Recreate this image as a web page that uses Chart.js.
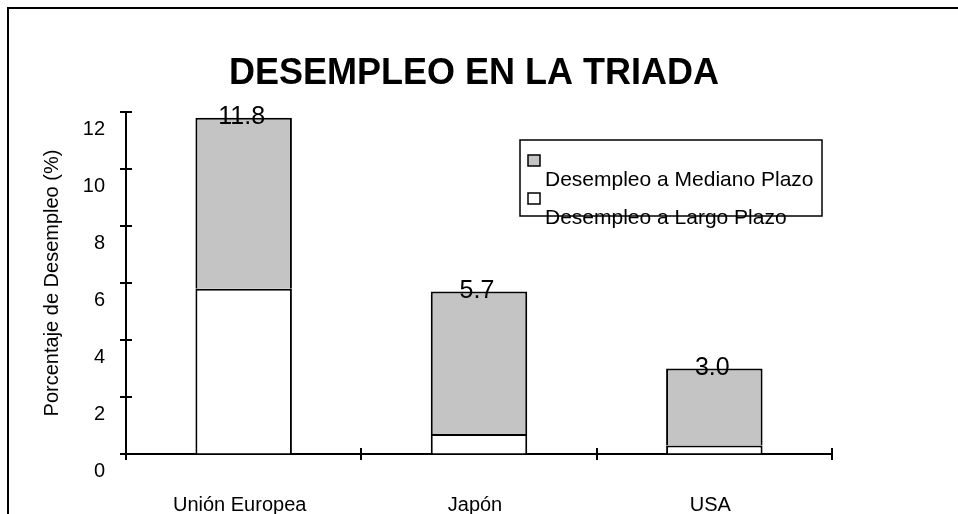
<!DOCTYPE html>
<html><head><meta charset="utf-8">
<script src="https://cdn.jsdelivr.net/npm/chart.js@4.4.0/dist/chart.umd.min.js"></script>
<style>html,body{margin:0;padding:0;background:#fff;} #wrap{width:958px;height:514px;}</style>
</head><body><div id="wrap"><canvas id="c" width="958" height="514"></canvas></div>
<script>
const categories = ['Unión Europea', 'Japón', 'USA'];
const largoPlazo = [5.8, 0.7, 0.3];
const medianoPlazo = [6.0, 5.0, 2.7];
const seriesLabels = ['Desempleo a Largo Plazo', 'Desempleo a Mediano Plazo'];
const chartTitle = 'DESEMPLEO EN LA TRIADA';
const yTitle = 'Porcentaje de Desempleo (%)';
const yMin = 0, yMax = 12, yStep = 2;

const FONT = '"Liberation Sans", Arial, Helvetica, sans-serif';
const GRAY = '#c4c4c4';

const framePlugin = {
  id: 'frame',
  beforeDraw(chart) {
    const ctx = chart.ctx;
    ctx.save();
    ctx.fillStyle = '#fff';
    ctx.fillRect(0, 0, chart.width, chart.height);
    ctx.strokeStyle = '#000';
    ctx.lineWidth = 2;
    ctx.strokeRect(8, 8, chart.width + 20, chart.height + 20);
    ctx.restore();
  }
};

const crossTicksPlugin = {
  id: 'crossTicks',
  afterDraw(chart) {
    const ctx = chart.ctx;
    const ys = chart.scales.y, xs = chart.scales.x;
    ctx.save();
    ctx.strokeStyle = '#000';
    ctx.lineWidth = 2;
    ctx.beginPath();
    ys.ticks.forEach(t => {
      const py = Math.round(ys.getPixelForValue(t.value));
      ctx.moveTo(ys.right - 6, py);
      ctx.lineTo(ys.right + 6, py);
    });
    for (let i = 0; i <= categories.length; i++) {
      const px = Math.round(xs.getPixelForValue(i - 0.5));
      ctx.moveTo(px, xs.top - 6);
      ctx.lineTo(px, xs.top + 6);
    }
    ctx.stroke();
    ctx.restore();
  }
};

const valueLabelPlugin = {
  id: 'valueLabels',
  afterDatasetsDraw(chart) {
    const ctx = chart.ctx;
    const last = chart.data.datasets.length - 1;
    const meta = chart.getDatasetMeta(last);
    ctx.save();
    ctx.fillStyle = '#000';
    ctx.font = '25px ' + FONT;
    ctx.textAlign = 'center';
    ctx.textBaseline = 'alphabetic';
    meta.data.forEach((bar, i) => {
      const total = chart.data.datasets.reduce((s, d) => s + d.data[i], 0);
      ctx.fillText(total.toFixed(1), bar.x - 2, bar.y + 6);
    });
    ctx.restore();
  }
};

const customLegendPlugin = {
  id: 'customLegend',
  afterDraw(chart) {
    const ctx = chart.ctx;
    const box = {x: 520, y: 140, w: 302, h: 76};
    ctx.save();
    ctx.strokeStyle = '#000';
    ctx.lineWidth = 1.5;
    ctx.strokeRect(box.x, box.y, box.w, box.h);
    ctx.font = '21px ' + FONT;
    ctx.textAlign = 'left';
    ctx.textBaseline = 'alphabetic';
    const items = chart.data.datasets.slice().reverse();
    items.forEach((ds, k) => {
      const sy = 155 + k * 38;
      ctx.fillStyle = ds.backgroundColor;
      ctx.fillRect(528, sy, 12, 11);
      ctx.lineWidth = 1.5;
      ctx.strokeStyle = '#000';
      ctx.strokeRect(528, sy, 12, 11);
      ctx.fillStyle = '#000';
      ctx.fillText(ds.label, 545, sy + 31);
    });
    ctx.restore();
  }
};

new Chart(document.getElementById('c'), {
  type: 'bar',
  data: {
    labels: categories,
    datasets: [
      {label: seriesLabels[0], data: largoPlazo, backgroundColor: '#ffffff', borderColor: '#000', borderWidth: 2},
      {label: seriesLabels[1], data: medianoPlazo, backgroundColor: GRAY, borderColor: '#000', borderWidth: 2}
    ]
  },
  options: {
    responsive: false,
    animation: false,
    events: [],
    layout: {padding: {left: 0, right: 10, top: 0, bottom: 0}},
    datasets: {bar: {categoryPercentage: 1, barPercentage: 0.41}},
    plugins: {
      legend: {display: false},
      tooltip: {enabled: false},
      title: {
        display: true,
        text: chartTitle,
        color: '#000',
        font: {family: FONT, size: 36, weight: 'bold'},
        padding: {top: 52, bottom: 16.8}
      }
    },
    scales: {
      x: {
        stacked: true,
        grid: {drawOnChartArea: false, drawTicks: false},
        border: {display: true, color: '#000', width: 2},
        ticks: {color: '#000', font: {family: FONT, size: 20}, padding: 39, labelOffset: -4, maxRotation: 0},
        afterFit: s => { s.height = 60; }
      },
      y: {
        stacked: true,
        min: yMin, max: yMax,
        grid: {drawOnChartArea: false, drawTicks: false},
        border: {display: true, color: '#000', width: 2},
        ticks: {stepSize: yStep, color: '#000', font: {family: FONT, size: 20}, padding: 21, labelOffset: 17},
        title: {display: true, text: yTitle, color: '#000', font: {family: FONT, size: 20}, padding: {top: 40, bottom: 0}},
        afterFit: s => { s.width = 126; }
      },
      yR: {
        position: 'right',
        display: true,
        grid: {display: false},
        border: {display: false},
        ticks: {display: false},
        afterFit: s => { s.width = 116; }
      }
    }
  },
  plugins: [framePlugin, crossTicksPlugin, valueLabelPlugin, customLegendPlugin]
});
</script>
</body></html>
